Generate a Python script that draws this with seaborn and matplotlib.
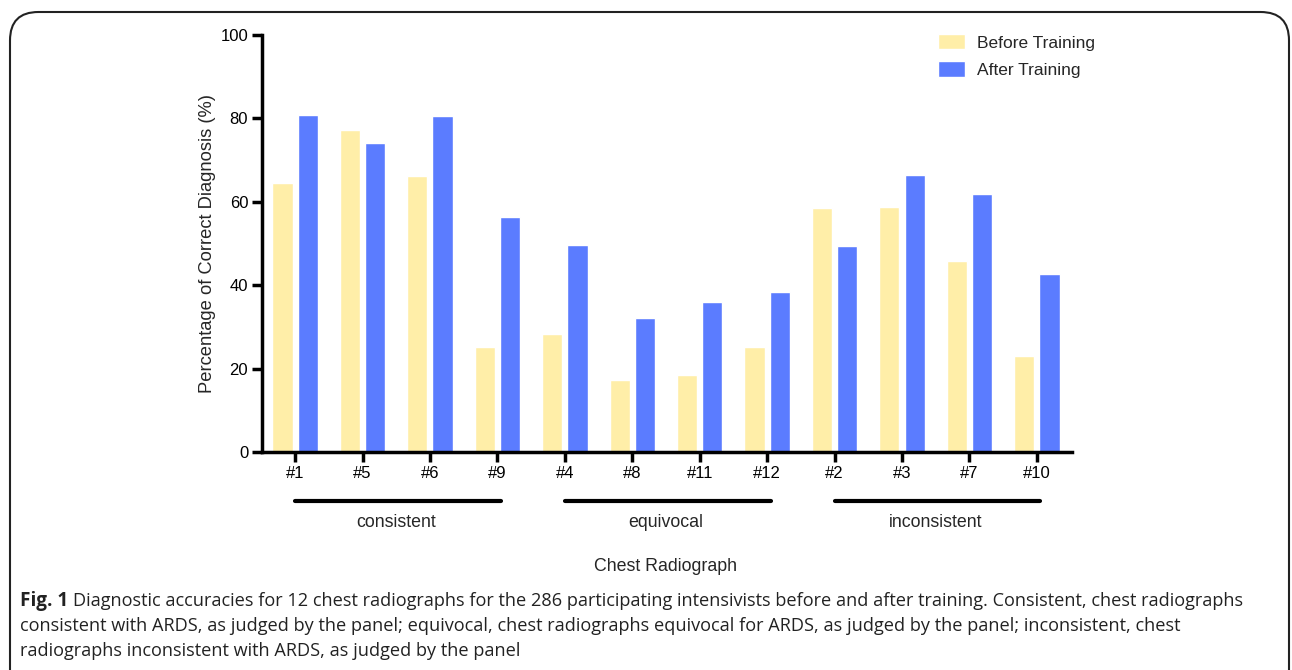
import pandas as pd
import matplotlib
matplotlib.use("Agg")
import matplotlib.pyplot as plt
import seaborn as sns
from matplotlib.patches import FancyBboxPatch

radiographs = ["#1", "#5", "#6", "#9", "#4", "#8", "#11", "#12", "#2", "#3", "#7", "#10"]
before = [64.5, 77.3, 66.2, 25.1, 28.4, 17.2, 18.5, 25.1, 58.5, 58.8, 45.8, 23.0]
after = [80.7, 74.2, 80.5, 56.3, 49.7, 32.1, 36.0, 38.4, 49.3, 66.4, 61.9, 42.6]
groups = ["consistent", "equivocal", "inconsistent"]

df = pd.DataFrame({
    "Radiograph": radiographs * 2,
    "Value": before + after,
    "Phase": ["Before Training"] * len(radiographs) + ["After Training"] * len(radiographs),
})

sns.set_style("white")
plt.rcParams["font.family"] = ["Liberation Sans", "DejaVu Sans"]

fig = plt.figure(figsize=(12.92, 6.70), dpi=100)
ax = fig.add_axes([0.2028, 0.3254, 0.6269, 0.6224])

sns.barplot(data=df, x="Radiograph", y="Value", hue="Phase", order=radiographs,
            palette={"Before Training": "#FFEEA8", "After Training": "#5B7CFF"},
            width=0.75, gap=0.2, ax=ax, saturation=1)

ax.set_xlim(-0.49, 11.52)
ax.set_ylim(0, 100)
ax.set_yticks([0, 20, 40, 60, 80, 100])
ax.set_xlabel("")
ax.set_ylabel("Percentage of Correct Diagnosis (%)", fontsize=13.2, labelpad=3)
sns.despine(ax=ax)
for s in ["left", "bottom"]:
    ax.spines[s].set_linewidth(2.5)
    ax.spines[s].set_color("black")
ax.tick_params(axis="both", direction="out", length=7, width=2.5, labelsize=12,
               colors="black", pad=3, left=True, bottom=True)

leg = ax.legend(loc="upper left", bbox_to_anchor=(0.815, 1.04), frameon=False, fontsize=12.5,
                handlelength=1.55, handleheight=1.0, labelspacing=0.6, handletextpad=0.7)

# group bars underneath the ticks
tr = ax.get_xaxis_transform()
for i, g in enumerate(groups):
    x0 = i * 4
    ax.plot([x0, x0 + 3.05], [-0.1175, -0.1175], transform=tr, color="black", lw=3,
            solid_capstyle="round", clip_on=False)
    ax.text(x0 + 1.5, -0.148, g, transform=tr, ha="center", va="top", fontsize=12.8)
ax.text(5.5, -0.255, "Chest Radiograph", transform=tr, ha="center", va="top", fontsize=12.8)

# caption
cap_font = ["Open Sans", "DejaVu Sans"]
lines = [
    "Diagnostic accuracies for 12 chest radiographs for the 286 participating intensivists before and after training. Consistent, chest radiographs",
    "consistent with ARDS, as judged by the panel; equivocal, chest radiographs equivocal for ARDS, as judged by the panel; inconsistent, chest",
    "radiographs inconsistent with ARDS, as judged by the panel",
]
t = fig.text(20 / 1292, 1 - 601 / 670, "Fig. 1", fontsize=13.6, fontweight="bold",
             family=cap_font, va="center", ha="left", color="#222222")
fig.canvas.draw()
bb = t.get_window_extent()
fig.text((bb.x1 + 5) / 1292, 1 - 601 / 670, lines[0], fontsize=13.1, family=cap_font,
         va="center", ha="left", color="#222222")
fig.text(20 / 1292, 1 - 626 / 670, lines[1], fontsize=13.1, family=cap_font,
         va="center", ha="left", color="#222222")
fig.text(20 / 1292, 1 - 651 / 670, lines[2], fontsize=13.1, family=cap_font,
         va="center", ha="left", color="#222222")

# rounded frame around the figure
frame = FancyBboxPatch((10 / 1292, -0.05), 1279 / 1292, (670 - 12) / 670 + 0.05,
                       boxstyle="round,pad=0,rounding_size=0.022", transform=fig.transFigure,
                       fill=False, edgecolor="#222222", lw=1.5, clip_on=False,
                       mutation_aspect=1292 / 670)
fig.add_artist(frame)

fig.savefig("out.png", dpi=100)
